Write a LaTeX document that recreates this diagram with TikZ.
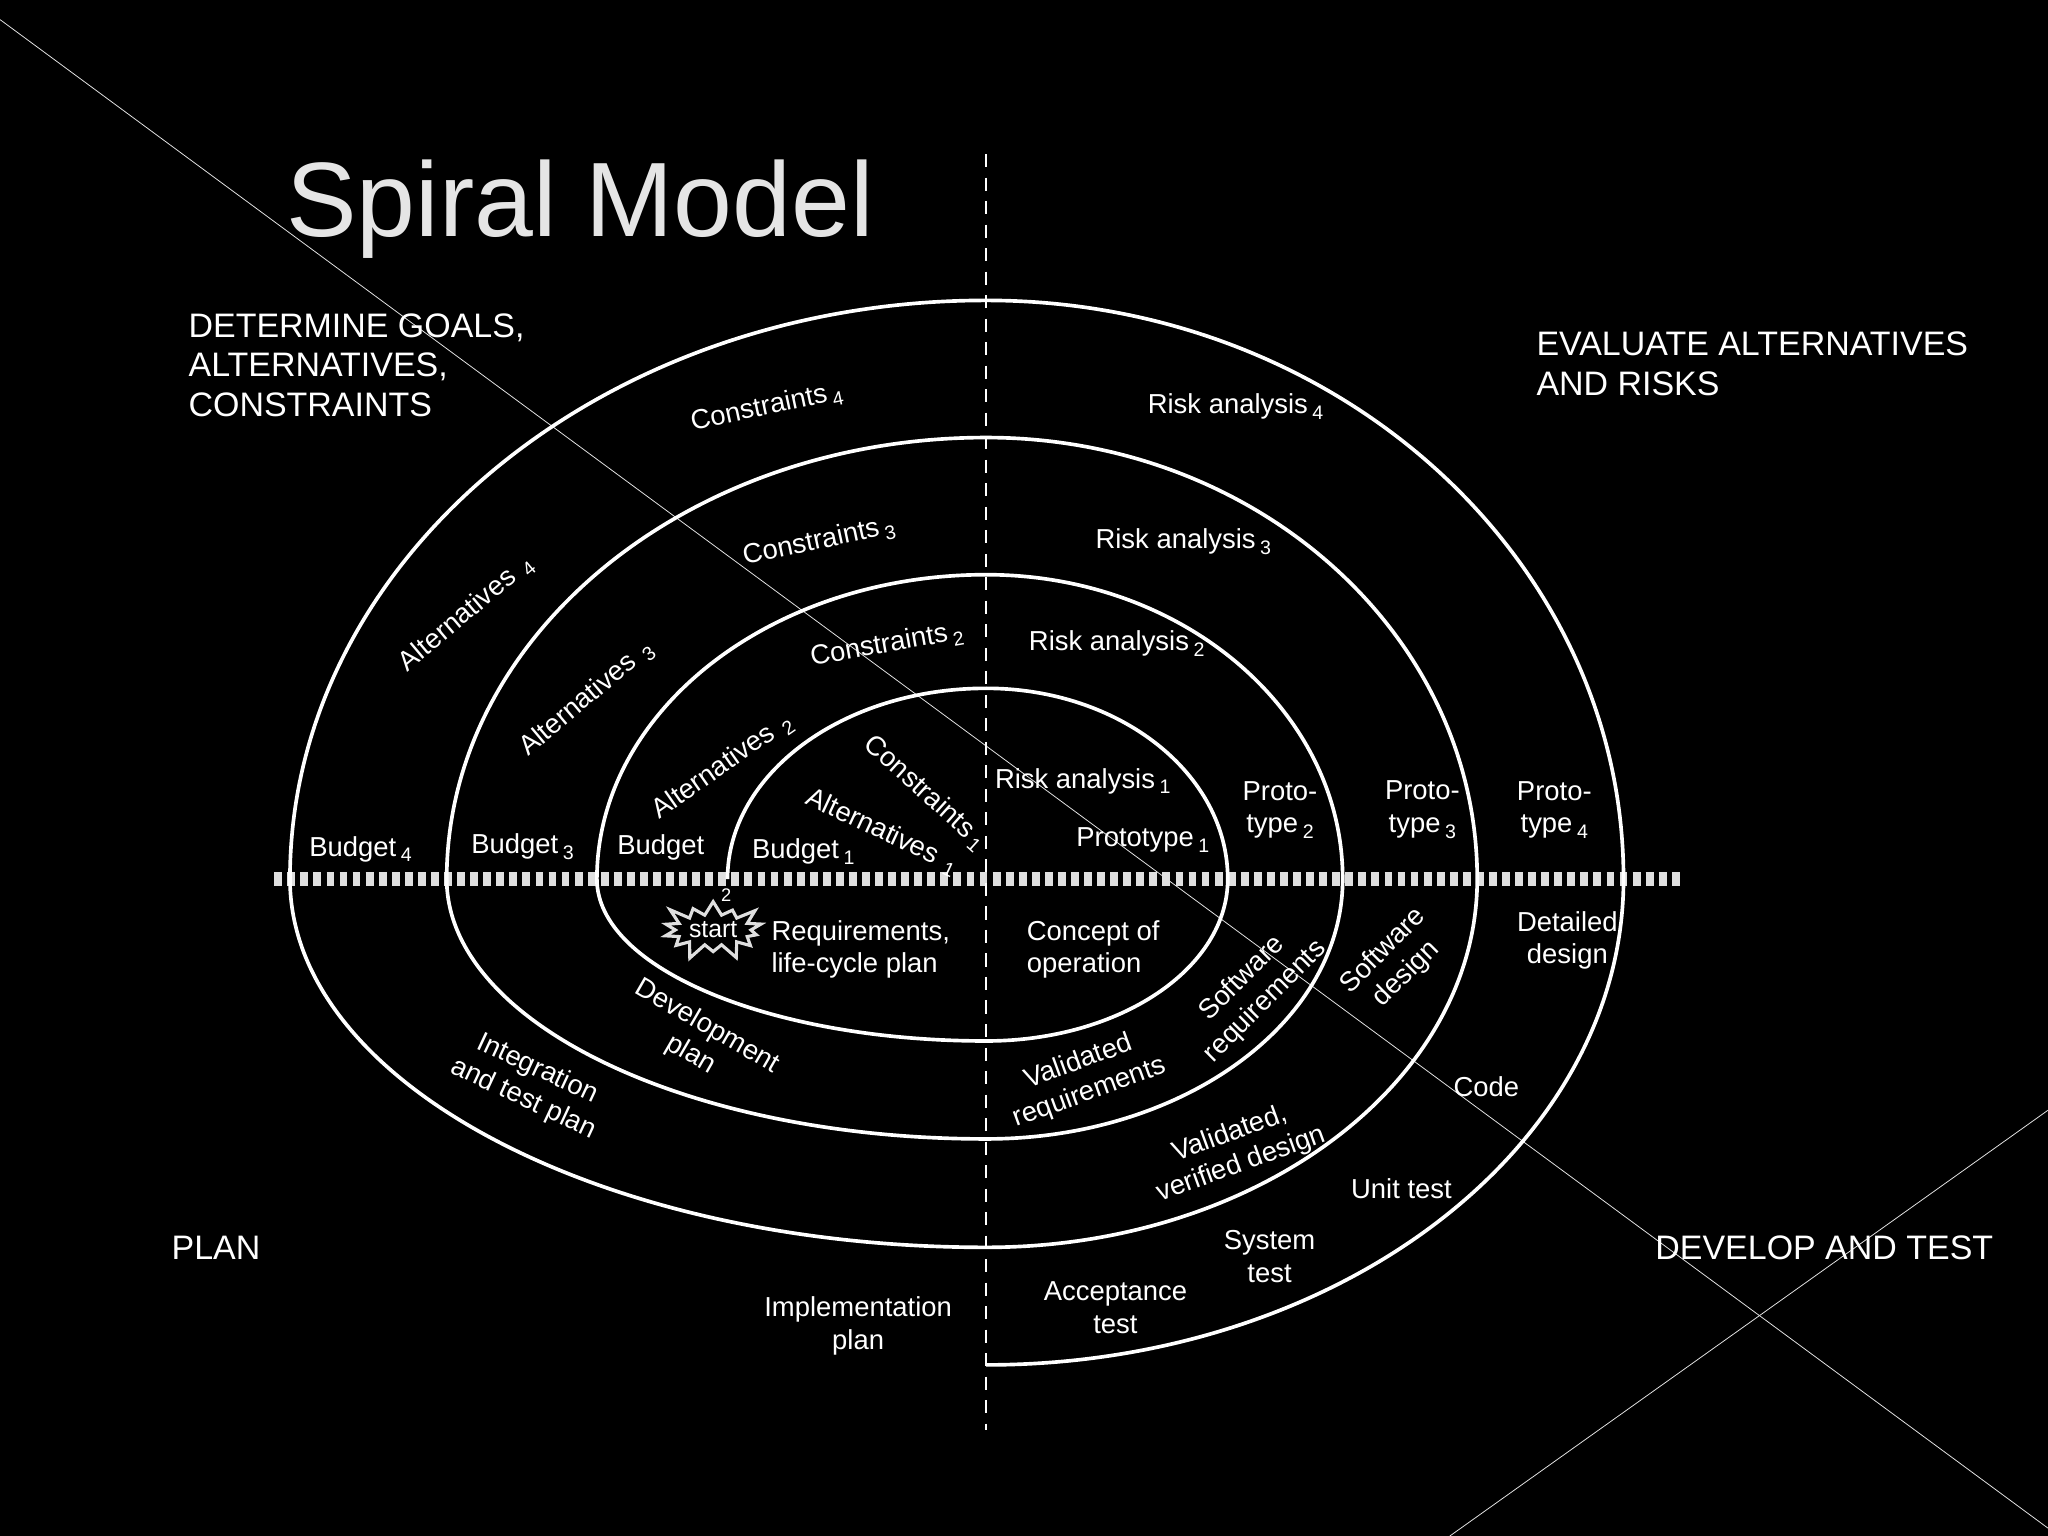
\documentclass[tikz,border=0pt]{standalone}
\usepackage{fontspec}
\setmainfont{Liberation Sans}
\usetikzlibrary{shapes.symbols}
\begin{document}
\begin{tikzpicture}[x=0.5pt,y=-0.5pt,
  lbl/.style={text=white,font=\fontsize{10.5}{12.5}\selectfont,align=center,inner sep=1pt},
  head/.style={text=white,font=\fontsize{13}{15}\selectfont,align=left,inner sep=0pt,anchor=north west},
  spiral/.style={draw=white,line width=1.4pt}]
\fill[black] (0,0) rectangle (1568,1176);
\useasboundingbox (0,0) rectangle (1568,1176);
\newcommand{\sbs}[1]{\,\raisebox{-0.4ex}{\fontsize{7.5}{8}\selectfont #1}}
% background decoration
\draw[gray!22,line width=0.3pt] (0,15) -- (1568,1170);
\draw[gray!22,line width=0.3pt] (1568,850) -- (1110,1176);
% axes
\coordinate (vt) at (755,118); \coordinate (vb) at (755,1095);
\coordinate (hl) at (210,673); \coordinate (hr) at (1287,673);
\draw[gray!25,line width=5pt,dash pattern=on 3pt off 2pt] (hl) -- (hr);
\draw[white,line width=0.6pt,dash pattern=on 5pt off 4pt] (vt) -- (vb);
% spiral
\coordinate (s0) at (557,673);
\draw[spiral] (s0)
  arc[start angle=180,end angle=270,x radius=198,y radius=146]
  arc[start angle=270,end angle=360,x radius=185,y radius=146]
  arc[start angle=0,end angle=90,x radius=185,y radius=124]
  arc[start angle=90,end angle=180,x radius=298,y radius=124]
  arc[start angle=180,end angle=270,x radius=298,y radius=233]
  arc[start angle=270,end angle=360,x radius=273,y radius=233]
  arc[start angle=0,end angle=90,x radius=273,y radius=199]
  arc[start angle=90,end angle=180,x radius=413,y radius=199]
  arc[start angle=180,end angle=270,x radius=413,y radius=338]
  arc[start angle=270,end angle=360,x radius=376,y radius=338]
  arc[start angle=0,end angle=90,x radius=376,y radius=282]
  arc[start angle=90,end angle=180,x radius=533,y radius=282]
  arc[start angle=180,end angle=270,x radius=533,y radius=443]
  arc[start angle=270,end angle=360,x radius=488,y radius=443]
  arc[start angle=0,end angle=90,x radius=488,y radius=372];
% title and quadrants
\node[text=gray!20,font=\fontsize{40.5}{42}\selectfont,anchor=west] (title) at (212,160) {Spiral Model};
\node[head] (q1) at (144,240) {DETERMINE GOALS,\\ALTERNATIVES,\\CONSTRAINTS};
\node[head] (q2) at (1176,254) {EVALUATE ALTERNATIVES\\AND RISKS};
\node[head] (q3) at (131,946) {PLAN};
\node[head] (q4) at (1267,946) {DEVELOP AND TEST};
% top-left labels
\node[lbl,rotate=12] (c4) at (587,312) {Constraints\sbs{4}};
\node[lbl,rotate=12] (c3) at (627,415) {Constraints\sbs{3}};
\node[lbl,rotate=10] (c2) at (679,494) {Constraints\sbs{2}};
\node[lbl,rotate=-42] (c1) at (708,607) {Constraints\sbs{1}};
\node[lbl,rotate=40] (a4) at (357,470) {Alternatives\sbs{~4}};
\node[lbl,rotate=40] (a3) at (449,535) {Alternatives\sbs{~3}};
\node[lbl,rotate=35] (a2) at (553,587) {Alternatives\sbs{~2}};
\node[lbl,rotate=-25] (a1) at (675,637) {Alternatives\sbs{~1}};
\node[lbl] (b4) at (276,650) {Budget\sbs{4}};
\node[lbl] (b3) at (400,648) {Budget\sbs{3}};
\node[lbl] (b2) at (506,649) {Budget};
\node[lbl] (b1) at (615,652) {Budget\sbs{1}};
% top-right labels
\node[lbl] (r4) at (946,311) {Risk analysis\sbs{4}};
\node[lbl] (r3) at (906,415) {Risk analysis\sbs{3}};
\node[lbl] (r2) at (855,493) {Risk analysis\sbs{2}};
\node[lbl] (r1) at (829,598) {Risk analysis\sbs{1}};
\node[lbl] (p1) at (875,643) {Prototype\sbs{1}};
\node[lbl] (p2) at (980,620) {Proto-\\type\sbs{2}};
\node[lbl] (p3) at (1089,620) {Proto-\\type\sbs{3}};
\node[lbl] (p4) at (1190,620) {Proto-\\type\sbs{4}};
% bottom-right labels
\node[lbl,align=left] (co) at (837,727) {Concept of\\operation};
\node[lbl,rotate=45] (sr) at (960,758) {Software\\requirements};
\node[lbl,rotate=45] (sd) at (1068,737) {Software\\design};
\node[lbl] (dd) at (1200,720) {Detailed\\design};
\node[lbl] (code) at (1138,832) {Code};
\node[lbl] (ut) at (1073,910) {Unit test};
\node[lbl] (st) at (972,962) {System\\test};
\node[lbl] (at) at (854,1001) {Acceptance\\test};
\node[lbl,rotate=20] (vr) at (830,825) {Validated\\requirements};
\node[lbl,rotate=20] (vv) at (946,880) {Validated,\\verified design};
% bottom-left labels
\node[lbl,align=left] (req) at (659,727) {Requirements,\\life-cycle plan};
\node[lbl,rotate=-30] (dp) at (535,797) {Development\\plan};
\node[lbl,rotate=-25] (itp) at (406,830) {Integration\\and test plan};
\node[lbl] (ip) at (657,1015) {Implementation\\plan};
% start
\node[starburst,draw=gray!25,fill=black,line width=1.2pt,starburst points=14,
  starburst point height=7pt,text=white,inner sep=1pt,
  font=\fontsize{9.5}{10}\selectfont] (start) at (546,712) {start};
\node[text=white,font=\fontsize{7}{8}\selectfont,inner sep=0pt] (n2) at (556,685) {2};
\end{tikzpicture}
\end{document}
